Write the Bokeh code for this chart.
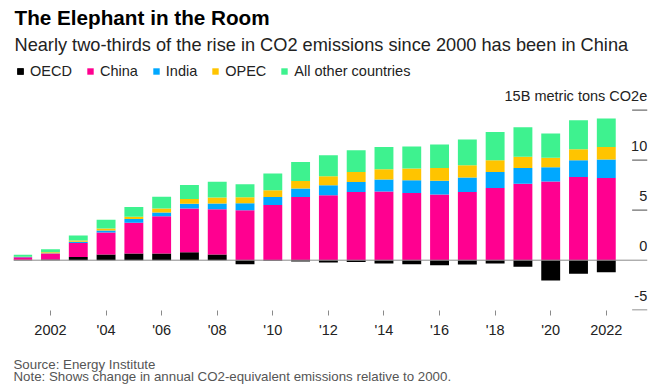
from bokeh.plotting import figure
from bokeh.layouts import column
from bokeh.models import ColumnDataSource, Span, Label, Legend, LegendItem, FixedTicker, Range1d
from bokeh.embed import file_html
from bokeh.resources import INLINE
from bokeh.core.properties import value

# ---- data (billion metric tons CO2e, change vs 2000) ----
years = list(range(2001, 2023))
oecd  = [0.05, 0.07, 0.33, 0.57, 0.67, 0.67, 0.80, 0.57, -0.40, -0.05, -0.13, -0.23, -0.17,
         -0.33, -0.40, -0.50, -0.43, -0.33, -0.65, -2.02, -1.35, -1.20]
china = [0.25, 0.60, 1.40, 2.20, 3.07, 3.73, 4.37, 4.53, 5.00, 5.53, 6.33, 6.50, 6.83,
         6.87, 6.73, 6.57, 6.83, 7.23, 7.65, 7.88, 8.33, 8.23]
india = [0.02, 0.03, 0.12, 0.20, 0.37, 0.37, 0.47, 0.57, 0.70, 0.80, 0.83, 1.00, 1.00,
         1.20, 1.27, 1.37, 1.43, 1.58, 1.58, 1.42, 1.67, 1.83]
opec  = [0.03, 0.10, 0.13, 0.20, 0.23, 0.40, 0.47, 0.60, 0.60, 0.67, 0.77, 0.90, 1.00,
         1.03, 1.17, 1.27, 1.23, 1.18, 1.12, 0.95, 1.10, 1.27]
other = [0.20, 0.30, 0.50, 0.87, 0.97, 1.17, 1.40, 1.57, 1.30, 1.67, 1.90, 2.10, 2.17,
         2.23, 2.20, 2.37, 2.57, 2.83, 2.95, 2.42, 2.90, 2.83]

series_names = ["OECD", "China", "India", "OPEC", "All other countries"]
colors = ["#000000", "#FF0090", "#00A8FF", "#FFC400", "#3EF28F"]

x_ticks = [2002, 2004, 2006, 2008, 2010, 2012, 2014, 2016, 2018, 2020, 2022]
x_tick_labels = ["2002", "'04", "'06", "'08", "'10", "'12", "'14", "'16", "'18", "'20", "2022"]
y_ticks = [-5, 0, 5, 10, 15]
y_tick_labels = ["-5", "0", "5", "10", "15B metric tons CO2e"]

title = "The Elephant in the Room"
subtitle = "Nearly two-thirds of the rise in CO2 emissions since 2000 has been in China"
source_txt = "Source: Energy Institute"
note_txt = "Note: Shows change in annual CO2-equivalent emissions relative to 2000."

FONT = "Liberation Sans"

src = ColumnDataSource(dict(
    year=years,
    oecd_pos=[max(v, 0) for v in oecd],
    oecd_neg=[min(v, 0) for v in oecd],
    china=china, india=india, opec=opec, other=other,
))

# main chart: frame x 13..647 px (titles/legend live inside the frame's top area)
p = figure(width=660, height=344, output_backend="svg", toolbar_location=None,
           x_range=Range1d(2000.669, 2023.483), y_range=Range1d(-5.03, 25.97),
           y_axis_location=None,
           min_border_left=13, min_border_right=13, min_border_top=0, min_border_bottom=34)
p.outline_line_color = None
p.xgrid.visible = False
p.ygrid.visible = False
p.background_fill_color = "white"
p.border_fill_color = "white"

stack = ["oecd_pos", "china", "india", "opec", "other"]
rs = p.vbar_stack(stack, x="year", width=0.68, color=colors, line_color=None, source=src)
r_neg = p.vbar(x="year", top="oecd_neg", bottom=0, width=0.68, color=colors[0],
               line_color=None, source=src)

# zero line
p.add_layout(Span(location=0, dimension="width", line_color="#8a8a8a", line_width=1))

# right-side value ticks (short rules) with labels sitting above them
yt_nz = [v for v in y_ticks if v != 0]
p.hbar(y=yt_nz, left=2022.93, right=2023.483, height=0.13,
       fill_color="#6f6f6f", line_color=None)
p.text(x=[2023.472] * len(y_ticks), y=y_ticks, text=y_tick_labels,
       text_align="right", text_baseline="alphabetic", y_offset=-14,
       text_font=value(FONT), text_font_size="14.5px", text_color="#222222")

# x axis
ax = p.xaxis[0]
ax.ticker = FixedTicker(ticks=x_ticks)
ax.major_label_overrides = {t: l for t, l in zip(x_ticks, x_tick_labels)}
ax.axis_line_color = None
ax.major_tick_line_color = "#8a8a8a"
ax.major_tick_in = 0
ax.major_tick_out = 5
ax.minor_tick_line_color = None
ax.major_label_standoff = 6
ax.major_label_text_font = FONT
ax.major_label_text_font_size = "14.5px"
ax.major_label_text_color = "#222222"

# legend
items = [LegendItem(label=series_names[0], renderers=[rs[0], r_neg])]
for name, r in zip(series_names[1:], rs[1:]):
    items.append(LegendItem(label=name, renderers=[r]))
legend = Legend(items=items, orientation="horizontal", location=(3, 231),
                glyph_width=8, glyph_height=8, label_standoff=6, spacing=14,
                padding=0, margin=0, border_line_color=None, background_fill_alpha=0,
                label_text_font=FONT, label_text_font_size="14.5px",
                label_text_color="#222222", label_height=16)
p.add_layout(legend)

# title and subtitle
p.add_layout(Label(x=14, y=17, x_units="canvas", y_units="canvas", text=title,
                   text_font=FONT, text_font_size="20.7px", text_font_style="bold",
                   text_color="#000000", text_baseline="alphabetic"))
p.add_layout(Label(x=14, y=44, x_units="canvas", y_units="canvas", text=subtitle,
                   text_font=FONT, text_font_size="18.2px", text_color="#222222",
                   text_baseline="alphabetic"))

# footnote strip below the chart
f = figure(width=660, height=42, output_backend="svg", toolbar_location=None,
           x_range=Range1d(0, 1), y_range=Range1d(0, 1),
           x_axis_location=None, y_axis_location=None,
           min_border_left=0, min_border_right=0, min_border_top=0, min_border_bottom=0)
f.outline_line_color = None
f.xgrid.visible = False
f.ygrid.visible = False
f.add_layout(Label(x=13, y=19.7, x_units="canvas", y_units="canvas", text=source_txt,
                   text_font=FONT, text_font_size="13.3px", text_color="#555555",
                   text_baseline="alphabetic"))
f.add_layout(Label(x=13, y=32.2, x_units="canvas", y_units="canvas", text=note_txt,
                   text_font=FONT, text_font_size="13.3px", text_color="#555555",
                   text_baseline="alphabetic"))

page = column(p, f, spacing=0)
open("out.html", "w").write(file_html(page, INLINE))
